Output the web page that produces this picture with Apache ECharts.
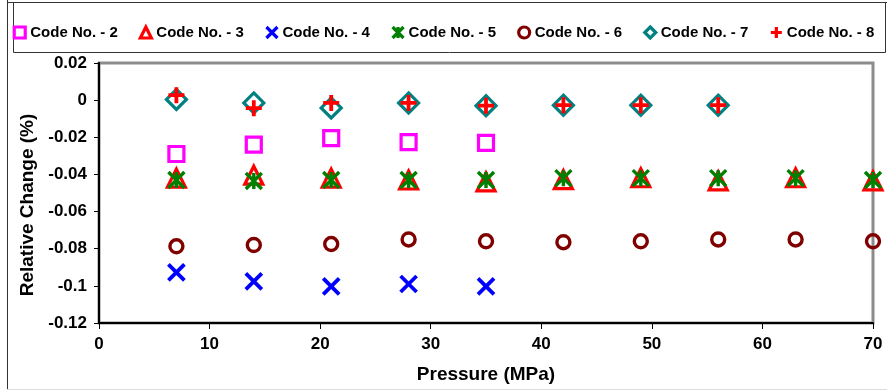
<!DOCTYPE html>
<html>
<head>
<meta charset="utf-8">
<script src="https://cdn.jsdelivr.net/npm/echarts@6/dist/echarts.min.js"></script>
<style>html,body{margin:0;padding:0;background:#fff;}#c{width:887px;height:392px;}</style>
</head>
<body>
<div id="c"></div>
<script>
var pressure = [7, 14, 21, 28, 35, 42, 49, 56, 63, 70];
var yTicks = [0.02, 0, -0.02, -0.04, -0.06, -0.08, -0.1, -0.12];
var code2 = [-0.029, -0.024, -0.0205, -0.0226, -0.023];
var code3 = [-0.042, -0.0404, -0.042, -0.043, -0.044, -0.0428, -0.0418, -0.0435, -0.0418, -0.0435];
var code4 = [-0.0927, -0.0976, -0.1003, -0.099, -0.1003];
var code5 = [-0.043, -0.0435, -0.043, -0.043, -0.043, -0.042, -0.042, -0.042, -0.042, -0.043];
var code6 = [-0.0787, -0.078, -0.0775, -0.075, -0.076, -0.0765, -0.076, -0.075, -0.075, -0.076];
var code7 = [0.0004, -0.0015, -0.0042, -0.0015, -0.003, -0.0027, -0.0027, -0.0027];
var code8 = [0.0027, -0.0043, -0.0015, -0.0015, -0.003, -0.0027, -0.0027, -0.0027];
var names = ['Code No. - 2', 'Code No. - 3', 'Code No. - 4', 'Code No. - 5', 'Code No. - 6', 'Code No. - 7', 'Code No. - 8'];

function pts(vals) { return vals.map(function (v, i) { return [pressure[i], v]; }); }
var T = 'rgba(0,0,0,0)';
function mk(name, vals, symbol, size, color, bw) {
  return {
    name: name, type: 'scatter', data: pts(vals), symbol: symbol, symbolSize: size,
    itemStyle: { color: T, borderColor: color, borderWidth: bw, opacity: 1 },
    emphasis: { disabled: true }
  };
}
var chart = echarts.init(document.getElementById('c'), null, { renderer: 'canvas' });
var F = '"Liberation Sans", Arial, sans-serif';
chart.setOption({
  animation: false,
  backgroundColor: '#fff',
  textStyle: { fontFamily: F },
  graphic: [
    { type: 'line', shape: { x1: 7.5, y1: 0, x2: 7.5, y2: 389 }, style: { stroke: '#333', lineWidth: 1 }, silent: true },
    { type: 'line', shape: { x1: 7, y1: 389.5, x2: 887, y2: 389.5 }, style: { stroke: '#ddd', lineWidth: 1 }, silent: true },
    { type: 'line', shape: { x1: 7, y1: 2.5, x2: 887, y2: 2.5 }, style: { stroke: '#333', lineWidth: 1 }, silent: true },
    { type: 'rect', shape: { x: 13.5, y: 2.5, width: 872, height: 50 }, style: { fill: 'none', stroke: '#333', lineWidth: 1 }, silent: true }
  ],
  legend: {
    top: 20, left: 'center', itemWidth: 11, itemHeight: 11, itemGap: 21,
    itemStyle: { borderWidth: 3.2 },
    textStyle: { fontSize: 15, fontWeight: 'bold', color: '#000', fontFamily: F },
    data: names
  },
  grid: { left: 99, right: 14, top: 63, bottom: 69, show: true, borderColor: '#8c8c8c', borderWidth: 3, backgroundColor: '#fff' },
  xAxis: {
    type: 'value', min: 0, max: 70, interval: 10,
    name: 'Pressure (MPa)', nameLocation: 'middle', nameGap: 42,
    nameTextStyle: { fontSize: 19, fontWeight: 'bold', color: '#000' },
    axisLine: { show: true, onZero: false, lineStyle: { color: '#000', width: 2 } },
    axisTick: { show: true, length: 6, lineStyle: { color: '#000', width: 1 } },
    axisLabel: { fontSize: 17, fontWeight: 'bold', color: '#000', margin: 13 },
    splitLine: { show: false }
  },
  yAxis: {
    type: 'value', min: yTicks[yTicks.length - 1], max: yTicks[0], interval: 0.02,
    name: 'Relative Change (%)', nameLocation: 'middle', nameGap: 60,
    nameTextStyle: { fontSize: 19, fontWeight: 'bold', color: '#000', padding: [0, 0, 0, -24] },
    axisLine: { show: true, onZero: false, lineStyle: { color: '#000', width: 2 } },
    axisTick: { show: true, length: 5, lineStyle: { color: '#000', width: 1 } },
    axisLabel: { fontSize: 17, fontWeight: 'bold', color: '#000', margin: 12,
      formatter: function (v) { return String(parseFloat(v.toFixed(2))); } },
    splitLine: { show: false }
  },
  series: [
    mk(names[0], code2, 'rect', 15, '#ff00ff', 3.2),
    mk(names[1], code3, 'triangle', 18, '#ff0000', 3.2),
    mk(names[2], code4, 'path://M0,0L10,10M10,0L0,10', 16, '#0000ff', 3.8),
    mk(names[3], code5, 'path://M0,0L10,10M10,0L0,10M5,0L5,10', 16, '#008000', 3.4),
    mk(names[4], code6, 'circle', 13, '#800000', 3.4),
    mk(names[5], code7, 'diamond', 20, '#008080', 3.2),
    mk(names[6], code8, 'path://M5,0L5,10M0,5L10,5', 16, '#ff0000', 3.8)
  ]
});
</script>
</body>
</html>
